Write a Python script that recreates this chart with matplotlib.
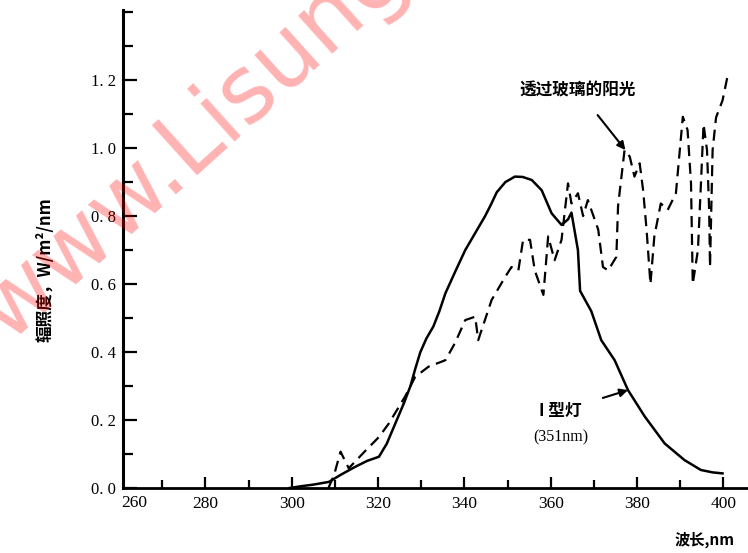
import matplotlib.pyplot as plt
from matplotlib.ticker import MultipleLocator

# Lamp spectrum (solid)
lamp_nm = [299.5, 302, 305, 308.6, 311.5, 314.8, 317.5, 320.2, 322, 324, 326, 327.5,
           328.6, 329.8, 331.2, 332.8, 334.2, 335.6, 338, 340.2, 342.5, 344.8, 346.2,
           347.5, 349.5, 351.7, 353.5, 355.6, 357.9, 360.2, 362.5, 364, 364.8, 366.3,
           366.8, 369.4, 371.7, 374.8, 377.9, 381.8, 386.4, 391, 394.8, 397.5, 399.8]
lamp_val = [0.0, 0.005, 0.01, 0.018, 0.04, 0.063, 0.08, 0.092, 0.13, 0.19, 0.25, 0.30,
            0.35, 0.40, 0.44, 0.475, 0.52, 0.573, 0.64, 0.70, 0.75, 0.80, 0.835,
            0.87, 0.90, 0.916, 0.915, 0.906, 0.876, 0.808, 0.774, 0.79, 0.81, 0.70,
            0.58, 0.52, 0.435, 0.376, 0.288, 0.21, 0.131, 0.082, 0.053, 0.046, 0.043]

# Sunlight through glass (dashed)
sun_nm = [308.5, 309.8, 311.3, 313.2, 317.1, 320.2, 322.5, 326.3, 328.6, 331.7, 335.6,
          337.8, 340.2, 342.5, 343.2, 346.3, 349.4, 350.9, 352.5, 353.6, 355.2, 356.3,
          358.3, 359.4, 360.9, 362.5, 364, 364.8, 366.3, 367.5, 368.6, 371, 372.1,
          373.3, 375.2, 375.6, 377.1, 378.3, 379.4, 380.6, 381.4, 382.2, 383.1, 384,
          385.5, 387.1, 389, 390.6, 391.7, 392.5, 392.9, 394.1, 394.8, 395.4, 396.2,
          396.7, 396.9, 397.5, 398.3, 399.8, 401.1]
sun_val = [0.0, 0.038, 0.107, 0.058, 0.11, 0.15, 0.19, 0.27, 0.327, 0.357, 0.376,
           0.426, 0.494, 0.504, 0.435, 0.553, 0.62, 0.65, 0.64, 0.73, 0.73, 0.64,
           0.568, 0.74, 0.67, 0.73, 0.896, 0.837, 0.867, 0.80, 0.847, 0.76, 0.65,
           0.64, 0.68, 0.83, 0.994, 0.975, 0.916, 0.955, 0.876, 0.76, 0.60, 0.74,
           0.837, 0.818, 0.867, 1.092, 1.053, 0.896, 0.60, 0.70, 0.896, 1.07, 0.994,
           0.818, 0.65, 0.994, 1.09, 1.14, 1.22]

x_ticks = [280, 300, 320, 340, 360, 380, 400]
y_ticks = [0.0, 0.2, 0.4, 0.6, 0.8, 1.0, 1.2]
y_labels = ['0. 0', '0. 2', '0. 4', '0. 6', '0. 8', '1. 0', '1. 2']

cjk = ['Noto Sans CJK SC', 'DejaVu Sans']
num_font = 'Liberation Serif'

fig = plt.figure(figsize=(7.48, 5.53), dpi=100)
ax = fig.add_axes([0.1644, 0.1175, 0.8356, 0.8644])

ax.plot(lamp_nm, lamp_val, color='black', lw=1.8)
ax.plot(sun_nm, sun_val, color='black', lw=1.6, ls=(0, (5, 3)))

ax.set_xlim(260.9, 405.7)
ax.set_ylim(0, 1.406)

ax.spines['top'].set_visible(False)
ax.spines['right'].set_visible(False)
ax.spines['left'].set_linewidth(2.2)
ax.spines['bottom'].set_linewidth(2.0)

ax.set_xticks(x_ticks)
ax.set_xticklabels([str(t) for t in x_ticks], fontfamily=num_font, fontsize=12.5)
ax.xaxis.set_minor_locator(MultipleLocator(10))
ax.set_yticks(y_ticks)
ax.set_yticklabels(y_labels, fontfamily=num_font, fontsize=12)
ax.yaxis.set_minor_locator(MultipleLocator(0.1))
ax.tick_params(which='both', direction='in', width=1.6)
ax.tick_params(axis='x', which='major', length=8, pad=6)
ax.tick_params(axis='x', which='minor', length=6)
ax.tick_params(axis='y', which='major', length=10, pad=5)
ax.tick_params(axis='y', which='minor', length=7)

# 260 sits on the y axis, label placed just right of it
ax.text(263.5, -0.02, '260', fontfamily=num_font, fontsize=12.5,
        ha='center', va='top', transform=ax.transData)

ax.set_ylabel('辐照度，W/m²/nm', family=cjk, fontsize=12, fontweight='bold')
ax.yaxis.set_label_coords(-0.109, 0.456)
fig.text(0.9425, 0.0235, '波长,nm', family=cjk, fontsize=11, fontweight='bold',
         ha='center', va='center')

ax.annotate('透过玻璃的阳光', xy=(377.3, 0.994), xytext=(366.3, 1.17),
            family=cjk, fontsize=12, fontweight='bold', ha='center', va='center',
            arrowprops=dict(arrowstyle='-|>', color='black', lw=1.5,
                            shrinkA=12, shrinkB=0, mutation_scale=12))
ax.annotate('I 型灯', xy=(377.9, 0.288), xytext=(362.2, 0.226),
            family=cjk, fontsize=12, fontweight='bold', ha='center', va='center',
            arrowprops=dict(arrowstyle='-|>', color='black', lw=1.5,
                            shrinkA=14, shrinkB=0, mutation_scale=12))
ax.text(362.4, 0.15, '(351nm)', fontfamily=num_font, fontsize=11.5,
        ha='center', va='center')

# red diagonal watermark from the scan
fig.text(0.0094, 0.3797, 'www.Lisungroup.com', fontfamily='DejaVu Sans',
         fontsize=66, color='red', alpha=0.3, rotation=42,
         rotation_mode='anchor', ha='left', va='baseline', zorder=10)

fig.savefig('out.png', dpi=100)
